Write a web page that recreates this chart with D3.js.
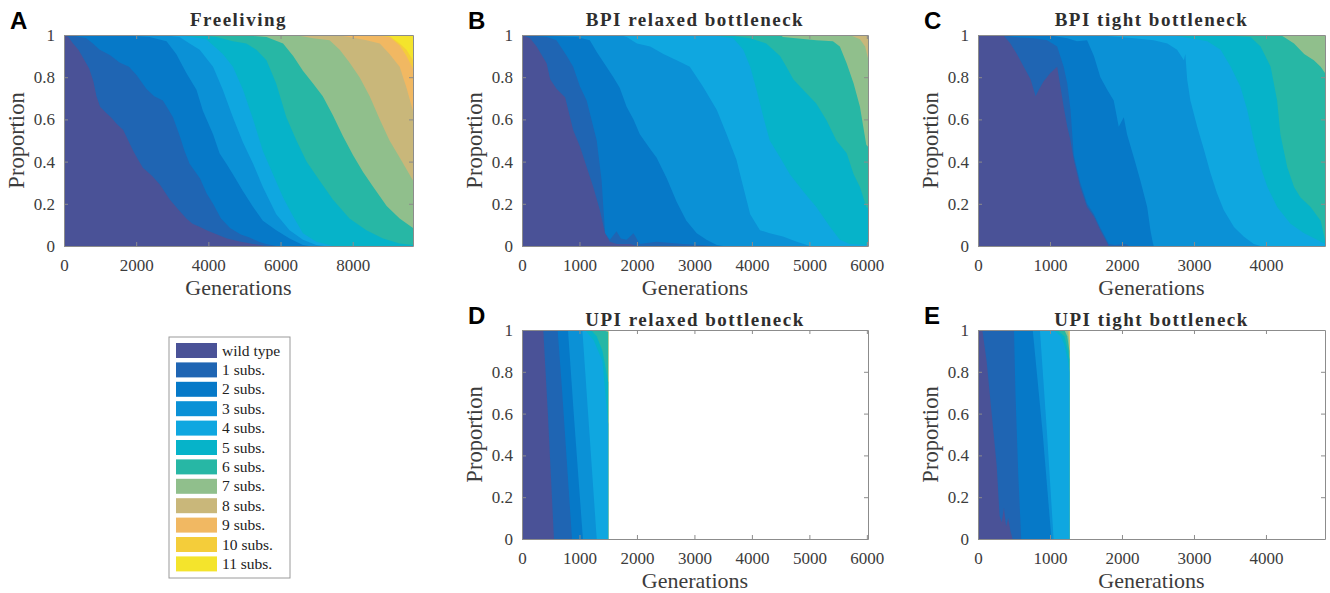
<!DOCTYPE html>
<html>
<head>
<meta charset="utf-8">
<script src="https://cdn.jsdelivr.net/npm/d3@7"></script>
<style>
  body { margin: 0; background: #fff; }
  svg { display: block; }
</style>
</head>
<body>
<div class="chart"></div>
<script>
// substitution classes, bottom of the stack first
const classes = ['wild type', '1 subs.', '2 subs.', '3 subs.', '4 subs.', '5 subs.',
  '6 subs.', '7 subs.', '8 subs.', '9 subs.', '10 subs.', '11 subs.'];
const classColors = ['#4a5297', '#1f65b3', '#0679c8', '#0b91d6', '#0fa7e0', '#06b3c9',
  '#27b7a5', '#90bf8c', '#c9b77a', '#f1b862', '#f4cd3a', '#f4e42c'];

// each panel: cumulative proportion (wild type .. k subs.) as [generation, value]
// class 11 fills the rest up to 1
const freeliving = [
  [[0,1],[120,0.99],[250,0.96],[400,0.93],[535,0.89],[700,0.84],[815,0.78],[900,0.71],[1000,0.66],[1170,0.63],[1300,0.61],[1450,0.58],[1640,0.55],[1780,0.5],[1920,0.45],[2050,0.41],[2190,0.37],[2290,0.355],[2450,0.33],[2660,0.29],[2930,0.22],[3130,0.18],[3390,0.13],[3560,0.105],[3770,0.09],[3950,0.075],[4240,0.055],[4520,0.035],[4900,0.02],[5240,0.01],[5600,0]],
  [[0,1],[300,0.995],[620,0.985],[800,0.96],[990,0.93],[1270,0.905],[1540,0.87],[1800,0.85],[2010,0.81],[2280,0.745],[2500,0.71],[2740,0.69],[2900,0.645],[3020,0.61],[3210,0.52],[3340,0.45],[3480,0.39],[3770,0.32],[3950,0.25],[4130,0.2],[4350,0.13],[4600,0.085],[4900,0.055],[5140,0.04],[5400,0.02],[5600,0.01],[5880,0]],
  [[0,1],[1500,1],[2370,0.99],[2840,0.97],[3110,0.91],[3390,0.82],[3670,0.74],[3850,0.64],[4130,0.53],[4310,0.44],[4500,0.39],[4680,0.34],[4960,0.26],[5240,0.185],[5510,0.12],[5880,0.075],[6250,0.035],[6620,0.005],[6800,0]],
  [[0,1],[2700,1],[3200,0.99],[3480,0.96],[3760,0.93],[4130,0.85],[4400,0.74],[4680,0.61],[4960,0.49],[5240,0.39],[5510,0.28],[5880,0.15],[6250,0.075],[6620,0.03],[6990,0.005],[7200,0]],
  [[0,1],[3200,1],[3940,0.98],[4400,0.91],[4680,0.85],[4960,0.74],[5240,0.6],[5510,0.45],[5790,0.34],[6070,0.23],[6350,0.14],[6620,0.06],[6990,0.02],[7450,0]],
  [[0,1],[3600,1],[4220,0.99],[4680,0.97],[5050,0.96],[5330,0.93],[5610,0.88],[5880,0.77],[6160,0.61],[6440,0.5],[6720,0.4],[7080,0.31],[7450,0.22],[7910,0.13],[8380,0.075],[8840,0.035],[9300,0.012],[9670,0.005]],
  [[0,1],[5000,1],[5240,0.995],[5610,0.99],[6070,0.96],[6350,0.9],[6620,0.83],[6900,0.77],[7170,0.71],[7450,0.62],[7730,0.52],[8010,0.43],[8290,0.35],[8570,0.28],[8940,0.19],[9300,0.13],[9670,0.085]],
  [[0,1],[6400,1],[6900,0.985],[7360,0.975],[7640,0.93],[7910,0.87],[8190,0.8],[8470,0.71],[8750,0.6],[9020,0.5],[9300,0.42],[9670,0.31]],
  [[0,1],[7500,1],[7910,0.99],[8380,0.975],[8750,0.96],[9020,0.91],[9300,0.85],[9490,0.75],[9670,0.64]],
  [[0,1],[8500,1],[9020,0.99],[9300,0.95],[9490,0.9],[9670,0.84]],
  [[0,1],[8800,1],[9020,0.995],[9300,0.96],[9490,0.93],[9670,0.88]]
];

const bpiRelaxed = [
  [[0,1],[140,0.985],[255,0.945],[430,0.865],[490,0.79],[600,0.745],[750,0.705],[805,0.645],[890,0.55],[1010,0.47],[1125,0.375],[1240,0.28],[1355,0.17],[1445,0.06],[1530,0.02],[1650,0.01],[1880,0.01],[2000,0]],
  [[0,1],[430,0.99],[600,0.975],[780,0.9],[890,0.85],[1010,0.755],[1125,0.69],[1180,0.63],[1300,0.5],[1385,0.31],[1445,0.06],[1530,0.03],[1645,0.07],[1720,0.035],[1820,0.03],[1940,0.06],[2050,0.01],[2340,0.02],[2800,0.01],[3100,0.005],[3300,0]],
  [[0,1],[490,0.995],[950,0.99],[1180,0.975],[1300,0.92],[1470,0.85],[1590,0.8],[1700,0.75],[1820,0.66],[1940,0.6],[2050,0.53],[2230,0.46],[2340,0.42],[2520,0.32],[2690,0.21],[2860,0.12],[3040,0.06],[3210,0.03],[3390,0.005],[3500,0]],
  [[0,1],[1700,1],[1820,0.99],[2000,0.96],[2230,0.945],[2460,0.91],[2690,0.88],[2920,0.85],[3150,0.755],[3390,0.645],[3560,0.53],[3730,0.41],[3850,0.28],[3970,0.15],[4140,0.075],[4310,0.06],[4540,0.045],[4780,0.02],[5010,0]],
  [[0,1],[3100,1],[3390,0.995],[3675,0.985],[3850,0.93],[3970,0.85],[4080,0.74],[4200,0.61],[4310,0.5],[4490,0.42],[4660,0.34],[4890,0.26],[5120,0.185],[5360,0.09],[5530,0.03],[5700,0.01],[5990,0.005],[6020,0.005]],
  [[0,1],[3600,1],[3675,0.995],[3970,0.985],[4250,0.96],[4490,0.9],[4600,0.85],[4720,0.79],[4890,0.74],[5120,0.675],[5300,0.595],[5470,0.5],[5650,0.44],[5770,0.34],[5880,0.28],[5990,0.185],[6020,0.18]],
  [[0,1],[4500,1],[4540,0.99],[5120,0.975],[5410,0.97],[5530,0.945],[5650,0.865],[5770,0.77],[5880,0.66],[5990,0.48],[6020,0.47]],
  [[0,1],[5700,1],[5880,0.98],[5970,0.945],[6020,0.89]],
  [[0,1],[6020,1]],
  [[0,1],[6020,1]],
  [[0,1],[6020,1]]
];

const bpiTight = [
  [[0,1],[360,0.995],[450,0.96],[540,0.91],[635,0.85],[730,0.79],[800,0.71],[845,0.74],[910,0.78],[1005,0.82],[1100,0.85],[1145,0.755],[1190,0.66],[1240,0.565],[1285,0.5],[1330,0.41],[1420,0.28],[1515,0.185],[1610,0.14],[1700,0.075],[1770,0.03],[1815,0]],
  [[0,1],[340,1],[495,0.99],[775,0.985],[960,0.975],[1100,0.945],[1190,0.85],[1240,0.77],[1285,0.645],[1330,0.43],[1420,0.3],[1515,0.2],[1610,0.15],[1700,0.085],[1770,0.04],[1815,0.01],[1900,0.005],[2050,0.01],[2100,0]],
  [[0,1],[900,1],[1050,0.995],[1240,0.985],[1375,0.97],[1515,0.975],[1610,0.9],[1700,0.8],[1795,0.74],[1885,0.69],[1955,0.565],[2025,0.61],[2070,0.53],[2165,0.42],[2255,0.31],[2350,0.185],[2395,0.075],[2420,0.03],[2440,0]],
  [[0,1],[1500,1],[1795,0.995],[2165,0.985],[2440,0.975],[2630,0.96],[2765,0.93],[2860,0.88],[2880,0.91],[2905,0.79],[2950,0.69],[3045,0.565],[3140,0.455],[3230,0.345],[3320,0.25],[3415,0.17],[3555,0.09],[3690,0.045],[3830,0.01],[3925,0]],
  [[0,1],[2700,1],[2765,0.995],[2950,0.985],[3185,0.97],[3370,0.93],[3510,0.85],[3645,0.755],[3740,0.645],[3830,0.5],[3925,0.375],[4020,0.28],[4155,0.185],[4340,0.105],[4530,0.06],[4710,0.03],[4820,0.01]],
  [[0,1],[3300,1],[3555,0.995],[3785,0.99],[3925,0.945],[4065,0.85],[4155,0.69],[4200,0.53],[4295,0.375],[4390,0.28],[4480,0.23],[4620,0.185],[4760,0.12],[4820,0.03]],
  [[0,1],[4200,1],[4250,0.99],[4390,0.96],[4530,0.91],[4665,0.88],[4760,0.85],[4820,0.82]],
  [[0,1],[4820,1]],
  [[0,1],[4820,1]],
  [[0,1],[4820,1]],
  [[0,1],[4820,1]]
];

const upiRelaxed = [
  [[0,1],[370,1],[450,0.6],[556,0]],
  [[0,1],[620,1],[700,0.7],[870,0]],
  [[0,1],[800,1],[900,0.6],[1060,0]],
  [[0,1],[1050,1],[1150,0.6],[1300,0]],
  [[0,1],[1100,1],[1250,0.95],[1400,0.85],[1500,0.55]],
  [[0,1],[1200,1],[1300,0.97],[1400,0.9],[1500,0.75]],
  [[0,1],[1400,1],[1500,0.99]],
  [[0,1],[1500,1]],
  [[0,1],[1500,1]],
  [[0,1],[1500,1]],
  [[0,1],[1500,1]]
];

const upiTight = [
  [[0,1],[60,1],[120,0.85],[170,0.67],[260,0.35],[300,0.11],[330,0.08],[360,0.15],[390,0.06],[420,0.1],[450,0.04],[480,0]],
  [[0,1],[500,1],[520,0.7],[560,0.3],[600,0]],
  [[0,1],[760,1],[900,0.5],[1020,0]],
  [[0,1],[860,1],[960,0.5],[1050,0]],
  [[0,1],[1050,1],[1150,0.97],[1200,0.93],[1250,0.85],[1270,0.8]],
  [[0,1],[1100,1],[1200,0.97],[1250,0.9],[1270,0.86]],
  [[0,1],[1200,1],[1240,0.97],[1270,0.9]],
  [[0,1],[1240,1],[1270,0.95]],
  [[0,1],[1270,1]],
  [[0,1],[1270,1]],
  [[0,1],[1270,1]]
];

const yTicks = [0, 0.2, 0.4, 0.6, 0.8, 1];

const panels = [
  {letter: 'A', title: 'Freeliving', xMax: 9670, dataEnd: 9670, xTicks: [0, 2000, 4000, 6000, 8000], bounds: freeliving},
  {letter: 'B', title: 'BPI relaxed bottleneck', xMax: 6020, dataEnd: 6020, xTicks: [0, 1000, 2000, 3000, 4000, 5000, 6000], bounds: bpiRelaxed},
  {letter: 'C', title: 'BPI tight bottleneck', xMax: 4820, dataEnd: 4820, xTicks: [0, 1000, 2000, 3000, 4000], bounds: bpiTight},
  {letter: 'D', title: 'UPI relaxed bottleneck', xMax: 6020, dataEnd: 1500, xTicks: [0, 1000, 2000, 3000, 4000, 5000, 6000], bounds: upiRelaxed},
  {letter: 'E', title: 'UPI tight bottleneck', xMax: 4820, dataEnd: 1270, xTicks: [0, 1000, 2000, 3000, 4000], bounds: upiTight}
];

// where each panel sits on the page
const frames = {
  A: {left: 64, top: 35, width: 349, height: 211, titleGap: 9},
  B: {left: 522, top: 35, width: 346, height: 211, titleGap: 9},
  C: {left: 978, top: 35, width: 347, height: 211, titleGap: 9},
  D: {left: 522, top: 330, width: 346, height: 209, titleGap: 4},
  E: {left: 978, top: 330, width: 347, height: 209, titleGap: 4}
};

const serif = '"Liberation Serif", "Times New Roman", serif';
const axisGrey = '#8c8c8c';
const textGrey = '#3c3c3c';

const svg = d3.select('.chart')
  .append('svg')
  .attr('width', 1330)
  .attr('height', 593);

panels.forEach(p => {
  const f = frames[p.letter];
  const g = svg.append('g')
    .attr('transform', `translate(${f.left},${f.top})`);

  const xScale = d3.scaleLinear().domain([0, p.xMax]).range([0, f.width]);
  const yScale = d3.scaleLinear().domain([0, 1]).range([f.height, 0]);

  const area = d3.area()
    .x(d => xScale(d[0]))
    .y0(yScale(0))
    .y1(d => yScale(d[1]));

  // paint from the top class down, each lower class covers the ones above it
  for (let k = classes.length - 1; k >= 0; k--) {
    const pts = k === classes.length - 1 ? [[0, 1], [p.dataEnd, 1]] : p.bounds[k];
    g.append('path')
      .datum(pts)
      .attr('d', area)
      .attr('fill', classColors[k]);
  }

  // box with ticks on all four sides, pointing inward
  const xAxis = d3.axisBottom(xScale).tickValues(p.xTicks).tickSizeInner(-4).tickSizeOuter(0).tickPadding(13)
    .tickFormat(d3.format('d'));
  const yAxis = d3.axisLeft(yScale).tickValues(yTicks).tickSizeInner(-4).tickSizeOuter(0).tickPadding(9)
    .tickFormat(d => d === 0 || d === 1 ? d3.format('d')(d) : d3.format('.1f')(d));
  const topAxis = d3.axisTop(xScale).tickValues(p.xTicks).tickSizeInner(-4).tickSizeOuter(0).tickFormat('');
  const rightAxis = d3.axisRight(yScale).tickValues(yTicks).tickSizeInner(-4).tickSizeOuter(0).tickFormat('');

  g.append('g').attr('class', 'axis x-axis').attr('transform', `translate(0,${f.height})`).call(xAxis);
  g.append('g').attr('class', 'axis y-axis').call(yAxis);
  g.append('g').attr('class', 'axis').call(topAxis);
  g.append('g').attr('class', 'axis').attr('transform', `translate(${f.width},0)`).call(rightAxis);

  g.selectAll('.axis path, .axis line').attr('stroke', axisGrey);
  g.selectAll('.axis text')
    .attr('font-family', serif)
    .attr('font-size', 17)
    .attr('fill', textGrey);

  // labels
  g.append('text')
    .attr('x', f.width / 2)
    .attr('y', f.height + 49)
    .attr('text-anchor', 'middle')
    .attr('font-family', serif)
    .attr('font-size', 22)
    .attr('fill', textGrey)
    .text('Generations');

  g.append('text')
    .attr('transform', `translate(-40,${f.height / 2}) rotate(-90)`)
    .attr('text-anchor', 'middle')
    .attr('font-family', serif)
    .attr('font-size', 22.5)
    .attr('fill', textGrey)
    .text('Proportion');

  g.append('text')
    .attr('x', f.width / 2)
    .attr('y', -f.titleGap)
    .attr('text-anchor', 'middle')
    .attr('font-family', serif)
    .attr('font-weight', 'bold')
    .attr('font-size', 19)
    .attr('letter-spacing', 1.5)
    .attr('fill', '#2e2e2e')
    .text(p.title);

  g.append('text')
    .attr('x', -54)
    .attr('y', -6)
    .attr('font-family', '"Liberation Sans", Arial, sans-serif')
    .attr('font-weight', 'bold')
    .attr('font-size', 24)
    .attr('fill', '#000')
    .text(p.letter);
});

// Legend
const legend = svg.append('g').attr('transform', 'translate(169,337)');
legend.append('rect')
  .attr('width', 121)
  .attr('height', 241)
  .attr('fill', '#fff')
  .attr('stroke', '#9a9a9a');

legend.selectAll('rect.swatch')
  .data(classes)
  .enter()
  .append('rect')
  .attr('class', 'swatch')
  .attr('x', 7)
  .attr('y', (d, i) => 6 + i * 19.4)
  .attr('width', 41)
  .attr('height', 15)
  .attr('fill', (d, i) => classColors[i]);

legend.selectAll('text')
  .data(classes)
  .enter()
  .append('text')
  .attr('x', 53)
  .attr('y', (d, i) => 18.5 + i * 19.4)
  .attr('font-family', serif)
  .attr('font-size', 15.5)
  .attr('fill', '#222')
  .text(d => d);
</script>
</body>
</html>
